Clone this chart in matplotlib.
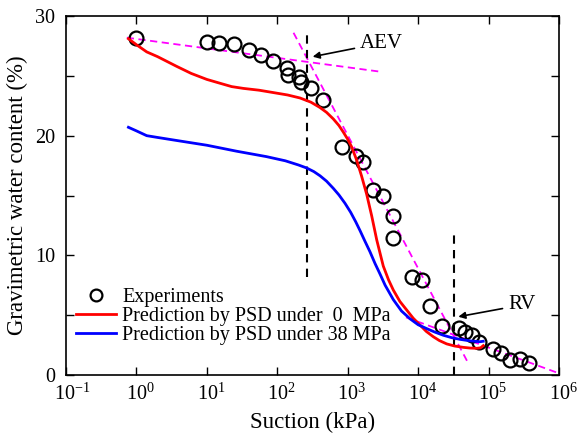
import matplotlib
matplotlib.use("Agg")
import matplotlib.pyplot as plt
from matplotlib.ticker import FuncFormatter, MultipleLocator, NullLocator
from matplotlib.transforms import ScaledTranslation
import numpy as np

plt.rcParams["font.family"] = ["Liberation Serif", "DejaVu Serif"]
plt.rcParams["mathtext.fontset"] = "custom"
plt.rcParams["mathtext.rm"] = "Liberation Serif"
plt.rcParams["mathtext.it"] = "Liberation Serif:italic"
plt.rcParams["mathtext.bf"] = "Liberation Serif:bold"
plt.rcParams["axes.unicode_minus"] = False

# Measured water retention data
exp_suction = [1.0, 10, 15, 24, 40, 59, 88, 136, 144, 205, 217, 298, 451, 821,
               1290, 1631, 2310, 3170, 4400, 4400, 8090, 11220, 14600, 22000,
               37600, 46800, 58000, 74000, 114000, 150000, 201000, 279000, 375000]
exp_water = [28.13, 27.85, 27.77, 27.63, 27.2, 26.74, 26.24, 25.63, 25.07, 24.93,
             24.51, 23.95, 22.95, 19.08, 18.33, 17.8, 15.48, 14.93, 13.25, 11.47,
             8.22, 7.97, 5.77, 4.12, 3.9, 3.58, 3.34, 2.75, 2.17, 1.87, 1.25, 1.34, 0.98]

# Predictions from the particle size distribution
psd0_suction = [0.77, 1.0, 1.4, 2.0, 3.7, 6, 10, 16, 22.5, 33, 55, 88, 140, 210,
                300, 404, 500, 624, 750, 865, 1000, 1140, 1341, 1578, 1859, 2190,
                2580, 2900, 3200, 3800, 4440, 5500, 6880, 8500, 10600, 13000,
                16400, 20000, 25400, 33000, 43800, 55000, 67800, 77000, 84000]
psd0_water = [28.1, 27.6, 27.0, 26.6, 25.8, 25.2, 24.7, 24.35, 24.1, 23.95, 23.8,
              23.6, 23.4, 23.15, 22.8, 22.35, 21.95, 21.4, 20.85, 20.3, 19.7, 19.05,
              17.95, 16.6, 15.1, 13.3, 11.3, 10.1, 9.1, 7.95, 7.1, 6.15, 5.43, 4.75,
              4.18, 3.65, 3.2, 2.88, 2.6, 2.42, 2.31, 2.25, 2.23, 2.27, 2.45]

psd38_suction = [0.77, 1.0, 1.4, 2.0, 3.7, 10, 26.5, 70, 130, 200, 261, 330, 404,
                 500, 624, 750, 915, 1100, 1300, 1500, 1750, 2070, 2450, 2870, 3400,
                 4440, 5800, 7660, 10000, 13200, 17000, 22800, 30000, 39300, 55000,
                 75500, 84000]
psd38_water = [20.7, 20.4, 20.0, 19.85, 19.6, 19.2, 18.7, 18.25, 17.9, 17.55, 17.3,
               17.0, 16.65, 16.2, 15.6, 15.05, 14.35, 13.6, 12.8, 12.05, 11.2, 10.3,
               9.3, 8.45, 7.5, 6.3, 5.35, 4.7, 4.2, 3.88, 3.6, 3.32, 3.12, 2.98, 2.85,
               2.78, 2.82]

# Construction lines for the air-entry and residual values
fit_upper_x, fit_upper_y = [0.73, 2870], [28.19, 25.35]
fit_slope_x, fit_slope_y = [170, 51000], [28.6, 1.03]
fit_tail_x, fit_tail_y = [6720, 1e6], [4.82, 0.14]

aev_suction, aev_range = 261, [8.2, 28.6]
rv_suction, rv_range = 32600, [0, 12.0]

xtick_vals = [1e-1, 1e0, 1e1, 1e2, 1e3, 1e4, 1e5, 1e6]
ytick_vals = [0, 10, 20, 30]

fig = plt.figure(figsize=(5.80, 4.41), dpi=100)
ax = fig.add_axes([66 / 580, 1 - 375 / 441, (559 - 66) / 580, (375 - 16) / 441])

mag = "#ff00ff"
for fx, fy in [(fit_upper_x, fit_upper_y), (fit_slope_x, fit_slope_y),
               (fit_tail_x, fit_tail_y)]:
    ax.plot(fx, fy, "--", color=mag, lw=1.3, dashes=(4, 2.5))

ax.plot([aev_suction, aev_suction], aev_range, "--", color="black", lw=1.5, dashes=(4, 3))
ax.plot([rv_suction, rv_suction], rv_range, "--", color="black", lw=1.5, dashes=(4, 3))

ax.plot(exp_suction, exp_water, "o", ms=10, mfc="none", mec="black", mew=1.6,
        label="Experiments")
ax.plot(psd0_suction, psd0_water, "-", color="#ff0000", lw=2.0,
        label="Prediction by PSD under  0  MPa")
ax.plot(psd38_suction, psd38_water, "-", color="#0000ff", lw=2.0,
        label="Prediction by PSD under 38 MPa")

ax.annotate("AEV", xy=(318, 26.6), xytext=(1494, 27.74), fontsize=15,
            va="center", ha="left",
            arrowprops=dict(arrowstyle="-|>", color="black", lw=1.2,
                            mutation_scale=10, shrinkA=2, shrinkB=0))
ax.annotate("RV", xy=(37200, 4.87), xytext=(189000, 5.85), fontsize=15,
            va="center", ha="left",
            arrowprops=dict(arrowstyle="-|>", color="black", lw=1.2,
                            mutation_scale=10, shrinkA=2, shrinkB=0))

ax.set_xscale("log")
ax.set_xlim(1e-1, 1e6)
ax.set_ylim(0, 30)
ax.set_xticks(xtick_vals)
ax.xaxis.set_minor_locator(NullLocator())
ax.xaxis.set_major_formatter(
    FuncFormatter(lambda v, p: r"$\mathregular{10^{%d}}$" % int(round(np.log10(v)))))
ax.set_yticks(ytick_vals)
ax.yaxis.set_minor_locator(MultipleLocator(5))

ax.tick_params(which="both", direction="in", top=True, right=True,
               labelsize=14.5, width=1.0, length=5.5)
ax.tick_params(axis="y", pad=8)
ax.tick_params(axis="x", pad=6)
for sp in ax.spines.values():
    sp.set_linewidth(1.2)

# keep the mantissa "10" centred on each tick, exponent hanging to the right
fig.canvas.draw()
for v, lab in zip(xtick_vals, ax.get_xticklabels()):
    shift = 6 if v < 1 else 4
    lab.set_transform(lab.get_transform() +
                      ScaledTranslation(shift / 100, 0, fig.dpi_scale_trans))

ax.set_xlabel("Suction (kPa)", fontsize=16.5, labelpad=5)
ax.set_ylabel("Gravimetric water content (%)", fontsize=16.5, labelpad=5)

ax.legend(loc="lower left", bbox_to_anchor=(0.0, 0.055), frameon=False,
          fontsize=14.5, handlelength=2.0, handletextpad=0.3, markerscale=0.85,
          labelspacing=0.0, borderaxespad=0.3, borderpad=0.2)

fig.savefig("out.png", dpi=100)
